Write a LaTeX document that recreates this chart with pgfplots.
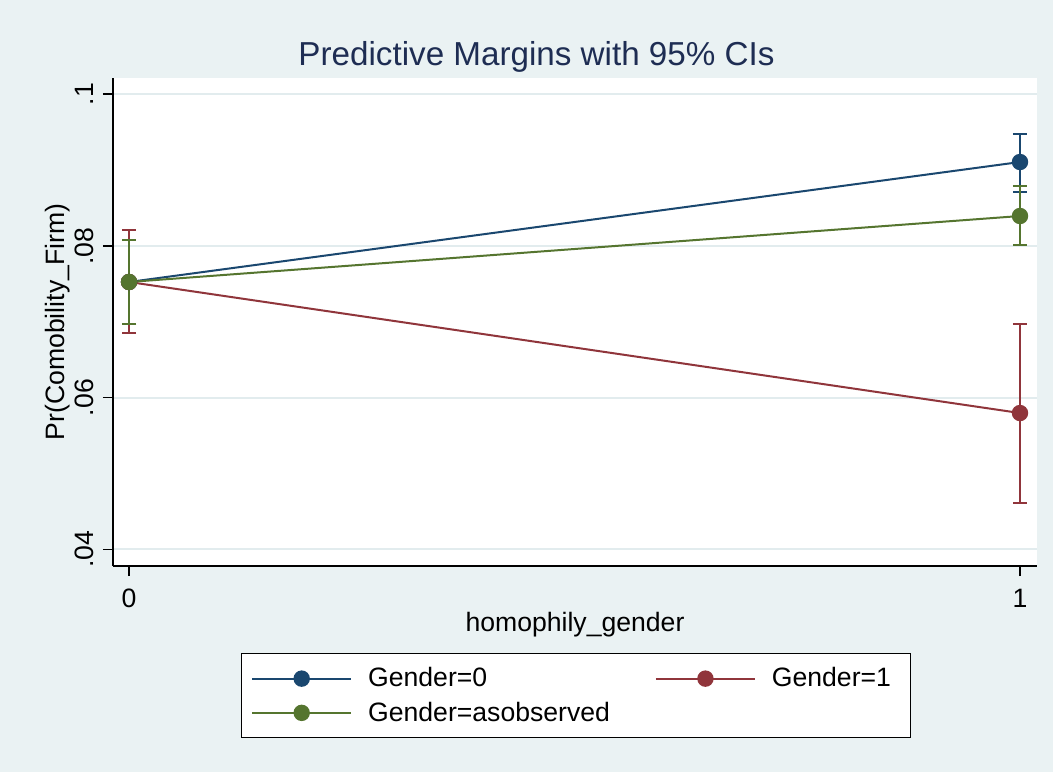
\documentclass[border=0pt]{standalone}
\usepackage{fontspec}
\setmainfont{Liberation Sans}
\usepackage{pgfplots}
\pgfplotsset{compat=1.18}
\definecolor{bgc}{RGB}{234,242,243}
\definecolor{gridc}{RGB}{226,236,238}
\definecolor{titlec}{RGB}{30,45,83}
\definecolor{snavy}{RGB}{26,71,111}
\definecolor{smaroon}{RGB}{144,53,59}
\definecolor{sgreen}{RGB}{85,117,47}
\newcommand{\lab}{\fontsize{13.3bp}{16bp}\selectfont}
\begin{document}
\begin{tikzpicture}
\fill[bgc] (0,0) rectangle (526.5bp,386bp);
\path[use as bounding box] (0,0) rectangle (526.5bp,386bp);
\node[anchor=base, text=titlec, font=\fontsize{16.6bp}{20bp}\selectfont, inner sep=0pt] at (268.25bp,353bp) {Predictive Margins with 95\% CIs};
\begin{axis}[
  at={(56.5bp,103bp)}, anchor=south west,
  scale only axis, width=462bp, height=244bp,
  xmin=-0.018, xmax=1.0191, ymin=0.0378, ymax=0.10215,
  clip=false,
  axis x line*=bottom, axis y line*=left,
  axis line style={black, line width=0.9bp, -},
  axis background/.style={fill=white},
  xtick={0,1}, xticklabels={0,1},
  ytick={0.04,0.06,0.08,0.1}, yticklabels={.04,.06,.08,.1},
  tick align=outside, major tick length=5bp,
  tick style={black, line width=0.8bp},
  ymajorgrids, grid style={gridc, line width=1bp},
  ticklabel style={font=\lab},
  xticklabel style={anchor=base, yshift=-15.5bp},
  yticklabel style={xshift=-5bp, rotate=90, anchor=base},
  every axis x label/.style={at={(axis description cs:0.5,-0.1346)}, anchor=base, font=\lab, inner sep=0pt},
  every axis y label/.style={at={(axis description cs:-0.05195,0.5)}, rotate=90, anchor=base, font=\lab, inner sep=0pt},
  xlabel={homophily\_gender},
  ylabel={Pr(Comobility\_Firm)},
  legend columns=2,
  legend style={at={(axis description cs:0.1382,-0.1783)}, anchor=north west,
    draw=black, line width=0.5bp, fill=white, font=\lab,
    inner xsep=5bp, inner ysep=5bp, row sep=2bp,
    cells={anchor=west},
    /tikz/every odd column/.append style={column sep=6bp},
    /tikz/every even column/.append style={column sep=20.5bp}},
  legend image code/.code={\draw[mark repeat=2,mark phase=2,#1] plot coordinates {(0bp,0bp) (24.75bp,0bp) (49.5bp,0bp)};},
]
\addplot[snavy, line width=1bp, mark=*, mark size=3.6bp, mark options={solid, fill=snavy},
  error bars/.cd, y dir=both, y explicit, error mark=|, error bar style={snavy, line width=1.1bp}, error mark options={snavy, line width=1.1bp, mark size=3.5bp}]
  coordinates {(0,0.07525) += (0,0.00555) -= (0,0.00555) (1,0.09107) += (0,0.00369) -= (0,0.00395)};
\addplot[smaroon, line width=1bp, mark=*, mark size=3.6bp, mark options={solid, fill=smaroon},
  error bars/.cd, y dir=both, y explicit, error mark=|, error bar style={smaroon, line width=1.1bp}, error mark options={smaroon, line width=1.1bp, mark size=3.5bp}]
  coordinates {(0,0.07525) += (0,0.00685) -= (0,0.00673) (1,0.05797) += (0,0.01174) -= (0,0.01186)};
\addplot[sgreen, line width=1bp, mark=*, mark size=3.6bp, mark options={solid, fill=sgreen},
  error bars/.cd, y dir=both, y explicit, error mark=|, error bar style={sgreen, line width=1.1bp}, error mark options={sgreen, line width=1.1bp, mark size=3.5bp}]
  coordinates {(0,0.07525) += (0,0.00555) -= (0,0.00554) (1,0.08395) += (0,0.00396) -= (0,0.00382)};
\legend{Gender=0, \makebox[62.3bp][l]{Gender=1}, Gender=asobserved}
\end{axis}
\end{tikzpicture}
\end{document}
